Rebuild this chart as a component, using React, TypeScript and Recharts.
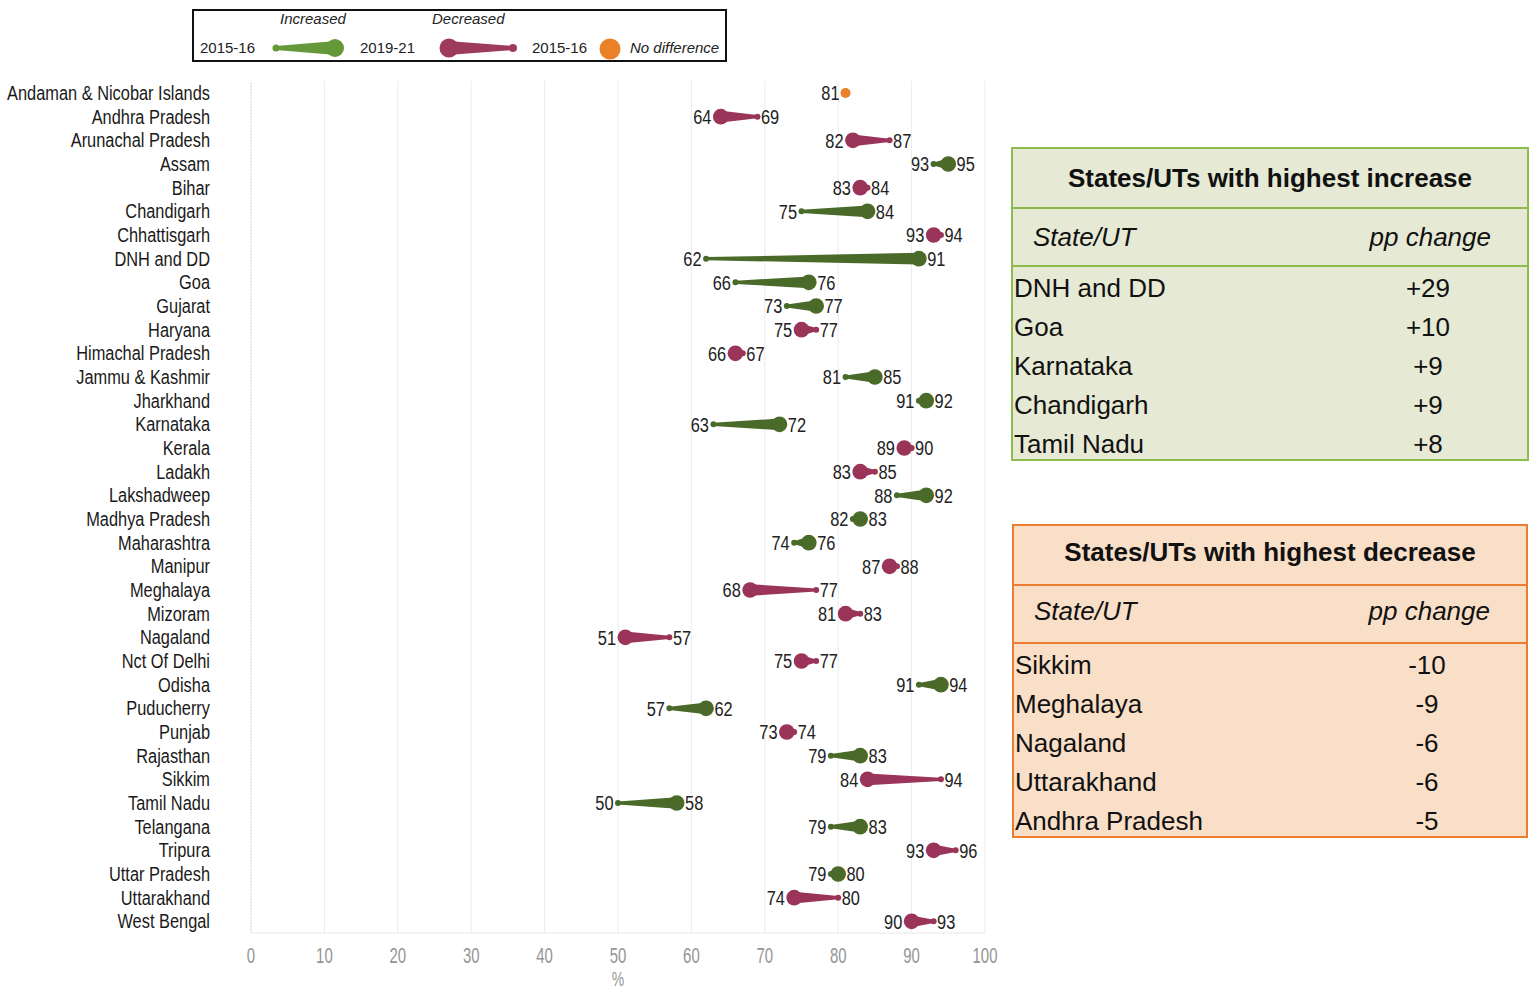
import React from 'react';
import { ComposedChart, Bar, XAxis, YAxis, CartesianGrid, ReferenceLine } from 'recharts';

// Rows, top to bottom
const states = [
  'Andaman & Nicobar Islands', 'Andhra Pradesh', 'Arunachal Pradesh', 'Assam', 'Bihar',
  'Chandigarh', 'Chhattisgarh', 'DNH and DD', 'Goa', 'Gujarat', 'Haryana',
  'Himachal Pradesh', 'Jammu & Kashmir', 'Jharkhand', 'Karnataka', 'Kerala', 'Ladakh',
  'Lakshadweep', 'Madhya Pradesh', 'Maharashtra', 'Manipur', 'Meghalaya', 'Mizoram',
  'Nagaland', 'Nct Of Delhi', 'Odisha', 'Puducherry', 'Punjab', 'Rajasthan', 'Sikkim',
  'Tamil Nadu', 'Telangana', 'Tripura', 'Uttar Pradesh', 'Uttarakhand', 'West Bengal',
];

// NFHS-4 (2015-16) values, %
const values2015 = [
  81, 69, 87, 93, 84, 75, 94, 62, 66, 73, 77, 67, 81, 91, 63, 90, 85, 88,
  82, 74, 88, 77, 83, 57, 77, 91, 57, 74, 79, 94, 50, 79, 96, 79, 80, 93,
];

// NFHS-5 (2019-21) values, %
const values2019 = [
  81, 64, 82, 95, 83, 84, 93, 91, 76, 77, 75, 66, 85, 92, 72, 89, 83, 92,
  83, 76, 87, 68, 81, 51, 75, 94, 62, 73, 83, 84, 58, 83, 93, 80, 74, 90,
];

const xTicks = [0, 10, 20, 30, 40, 50, 60, 70, 80, 90, 100];

const increaseStates = ['DNH and DD', 'Goa', 'Karnataka', 'Chandigarh', 'Tamil Nadu'];
const increaseChange = ['+29', '+10', '+9', '+9', '+8'];
const decreaseStates = ['Sikkim', 'Meghalaya', 'Nagaland', 'Uttarakhand', 'Andhra Pradesh'];
const decreaseChange = ['-10', '-9', '-6', '-6', '-5'];

const GREEN = '#4a6a29';
const MAROON = '#9a3459';
const ORANGE = '#ea8128';
const LEGEND_GREEN = '#659838';
const LEGEND_MAROON = '#9d3a5d';
const AXIS_GREY = '#959595';

const ARIAL = '"Liberation Sans", Arial, sans-serif';

const data = states.map((state, i) => ({
  state,
  v15: values2015[i],
  v19: values2019[i],
  range: [Math.min(values2015[i], values2019[i]), Math.max(values2015[i], values2019[i])],
}));

const BIG_R = 7.8;
const SMALL_R = 3;

// no Arial Narrow installed, so squeeze Liberation Sans horizontally
const NarrowText = ({ x, y, anchor, size = 21, squeeze = 0.78, fill = '#222', children }: any) => (
  <g transform={`translate(${x},${y})`}>
    <text
      transform={`scale(${squeeze},1)`}
      x={0}
      y={0}
      textAnchor={anchor}
      dominantBaseline="central"
      fontFamily={ARIAL}
      fontSize={size}
      fill={fill}
    >
      {children}
    </text>
  </g>
);

const StateTick = (props: any) => (
  <NarrowText x={props.x} y={props.y} anchor="end" fill="#1a1a1a">
    {props.payload.value}
  </NarrowText>
);

const PctTick = (props: any) => (
  <NarrowText x={props.x} y={props.y + 9} anchor="middle" size={22} squeeze={0.68} fill={AXIS_GREY}>
    {props.payload.value}
  </NarrowText>
);

const PctLabel = (props: any) => {
  const vb = props.viewBox || {};
  return (
    <NarrowText x={vb.x + vb.width / 2} y={979} anchor="middle" size={20} squeeze={0.7} fill={AXIS_GREY}>
      %
    </NarrowText>
  );
};

// draws the tadpole: thin tail at 2015-16, fat head at 2019-21
const Tadpole = (props: any) => {
  const { x, y, width, height, payload } = props;
  if (x == null || payload == null) return null;
  const cy = y + height / 2;
  const lo = x;
  const hi = x + width;

  if (payload.v15 === payload.v19) {
    return (
      <g>
        <circle cx={lo} cy={cy} r={5} fill={ORANGE} />
        <NarrowText x={lo - 6} y={cy} anchor="end">{payload.v19}</NarrowText>
      </g>
    );
  }

  const up = payload.v19 > payload.v15;
  const color = up ? GREEN : MAROON;
  const sx = up ? lo : hi;
  const bx = up ? hi : lo;
  const rLeft = up ? SMALL_R : BIG_R;
  const rRight = up ? BIG_R : SMALL_R;
  const pts = `${sx},${cy - 1.6} ${bx},${cy - 5.8} ${bx},${cy + 5.8} ${sx},${cy + 1.6}`;

  return (
    <g>
      <polygon points={pts} fill={color} />
      <circle cx={sx} cy={cy} r={SMALL_R} fill={color} />
      <circle cx={bx} cy={cy} r={BIG_R} fill={color} />
      <NarrowText x={lo - rLeft - 1.5} y={cy} anchor="end">
        {up ? payload.v15 : payload.v19}
      </NarrowText>
      <NarrowText x={hi + rRight + 0.5} y={cy} anchor="start">
        {up ? payload.v19 : payload.v15}
      </NarrowText>
    </g>
  );
};

const LegendBox = () => (
  <div
    style={{
      position: 'absolute', left: 192, top: 9, width: 531, height: 49,
      border: '2px solid #111', fontFamily: ARIAL, fontSize: 15, color: '#222',
    }}
  >
    <span style={{ position: 'absolute', left: 86, top: -1, fontStyle: 'italic' }}>Increased</span>
    <span style={{ position: 'absolute', left: 238, top: -1, fontStyle: 'italic' }}>Decreased</span>
    <span style={{ position: 'absolute', left: 6, top: 28 }}>2015-16</span>
    <svg style={{ position: 'absolute', left: 78, top: 26 }} width={76} height={22}>
      <polygon points="4,9 64,4 64,18 4,13" fill={LEGEND_GREEN} />
      <circle cx={4} cy={11} r={3.5} fill={LEGEND_GREEN} />
      <circle cx={63} cy={11} r={9} fill={LEGEND_GREEN} />
    </svg>
    <span style={{ position: 'absolute', left: 166, top: 28 }}>2019-21</span>
    <svg style={{ position: 'absolute', left: 243, top: 26 }} width={82} height={22}>
      <polygon points="11,4 77,9 77,13 11,18" fill={LEGEND_MAROON} />
      <circle cx={12} cy={11} r={9.5} fill={LEGEND_MAROON} />
      <circle cx={76} cy={11} r={4} fill={LEGEND_MAROON} />
    </svg>
    <span style={{ position: 'absolute', left: 338, top: 28 }}>2015-16</span>
    <svg style={{ position: 'absolute', left: 404, top: 26 }} width={24} height={24}>
      <circle cx={12} cy={12} r={10.5} fill={ORANGE} />
    </svg>
    <span style={{ position: 'absolute', left: 436, top: 28, fontStyle: 'italic' }}>No difference</span>
  </div>
);

type TableProps = {
  left: number;
  top: number;
  width: number;
  border: string;
  bg: string;
  title: string;
  names: string[];
  changes: string[];
  titleShift?: number;
};

const HighlightTable = ({ left, top, width, border, bg, title, names, changes, titleShift = 0 }: TableProps) => {
  const rowH = 39;
  const titleH = 59;
  const headH = 58;
  const height = titleH + headH + rowH * names.length + 2;
  const line = { position: 'absolute' as const, left: 0, width: '100%', height: 0, borderTop: `2.5px solid ${border}` };
  return (
    <div
      style={{
        position: 'absolute', left, top, width, height, boxSizing: 'border-box',
        border: `2.5px solid ${border}`, background: bg, fontFamily: ARIAL, color: '#111',
      }}
    >
      <div style={{ position: 'absolute', left: 0, top: titleShift, width: '100%', height: titleH, lineHeight: `${titleH}px`, textAlign: 'center', fontWeight: 'bold', fontSize: 26 }}>
        {title}
      </div>
      <div style={{ ...line, top: titleH - 1 }} />
      <div style={{ position: 'absolute', left: 20, top: titleH + titleShift, height: headH, lineHeight: `${headH}px`, fontStyle: 'italic', fontSize: 26 }}>
        State/UT
      </div>
      <div style={{ position: 'absolute', right: 36, top: titleH + titleShift, height: headH, lineHeight: `${headH}px`, fontStyle: 'italic', fontSize: 26 }}>
        pp change
      </div>
      <div style={{ ...line, top: titleH + headH - 1 }} />
      {names.map((n, i) => (
        <React.Fragment key={n}>
          <div style={{ position: 'absolute', left: 1, top: titleH + headH + 3 + i * rowH, height: rowH, lineHeight: `${rowH}px`, fontSize: 26 }}>
            {n}
          </div>
          <div style={{ position: 'absolute', left: width - 138, width: 70, textAlign: 'center', top: titleH + headH + 3 + i * rowH, height: rowH, lineHeight: `${rowH}px`, fontSize: 26 }}>
            {changes[i]}
          </div>
        </React.Fragment>
      ))}
    </div>
  );
};

export default function App() {
  return (
    <div style={{ position: 'absolute', left: 0, top: 0, width: 1540, height: 993, background: '#fff', overflow: 'hidden' }}>
      <div style={{ position: 'absolute', left: 0, top: 0 }}>
        <ComposedChart
          width={1010}
          height={993}
          data={data}
          layout="vertical"
          margin={{ top: 81, right: 25, bottom: 0, left: 0 }}
          barCategoryGap={0}
        >
          <CartesianGrid horizontal={false} stroke="#ececec" />
          <ReferenceLine x={0} stroke="#cfcfcf" strokeDasharray="1 2" />
          <XAxis
            type="number"
            domain={[0, 100]}
            ticks={xTicks}
            interval={0}
            axisLine={{ stroke: '#e8e8e8' }}
            tickLine={false}
            tickSize={0}
            tickMargin={13}
            height={60}
            tick={PctTick}
            label={PctLabel}
          />
          <YAxis
            type="category"
            dataKey="state"
            width={251}
            axisLine={false}
            tickLine={false}
            tickSize={0}
            tickMargin={41}
            interval={0}
            tick={StateTick}
          />
          <Bar dataKey="range" shape={Tadpole} isAnimationActive={false} />
        </ComposedChart>
      </div>
      <LegendBox />
      <HighlightTable
        left={1011} top={147} width={518} border="#8dbb4c" bg="#e6e9d4"
        title="States/UTs with highest increase" names={increaseStates} changes={increaseChange}
      />
      <HighlightTable
        left={1012} top={524} width={516} border="#ec7c30" bg="#f9dfc8" titleShift={-3}
        title="States/UTs with highest decrease" names={decreaseStates} changes={decreaseChange}
      />
    </div>
  );
}
